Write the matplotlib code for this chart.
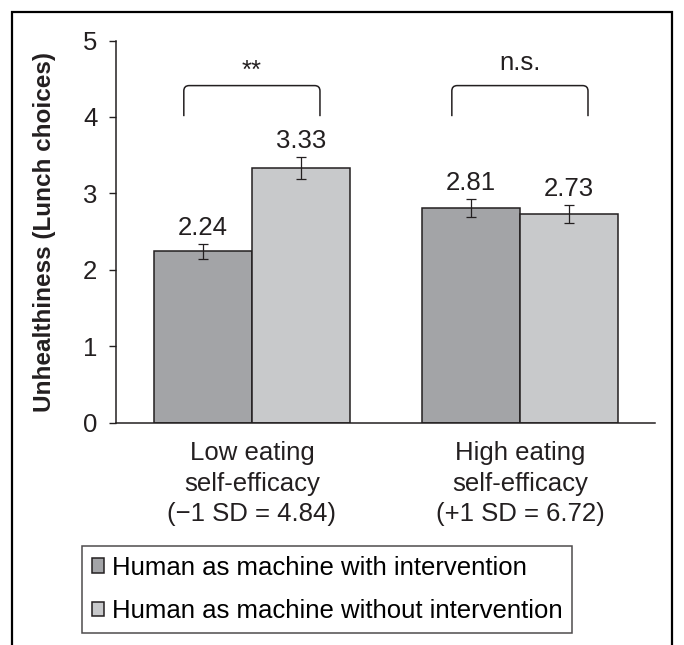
import matplotlib
matplotlib.use("Agg")
import matplotlib.pyplot as plt
import numpy as np
from matplotlib.patches import Rectangle, PathPatch
from matplotlib.path import Path

plt.rcParams['font.family'] = ['Liberation Sans', 'DejaVu Sans']

# data
groups = ["Low eating\nself-efficacy\n(\u22121 SD = 4.84)",
          "High eating\nself-efficacy\n(+1 SD = 6.72)"]
series = ["Human as machine with intervention",
          "Human as machine without intervention"]
with_int = [2.24, 2.81]
without_int = [3.33, 2.73]
err_with = [0.10, 0.12]
err_without = [0.14, 0.12]
sig_labels = ["**", "n.s."]

colors = ["#a3a4a7", "#c8c9cb"]
edge = "#231f20"
fs = 18.5

fig = plt.figure(figsize=(6.84, 6.45), dpi=100)
ax = fig.add_axes([116 / 684, 0.3447, 539 / 684, 0.5925])

x = np.arange(len(groups))
w = 0.366
vals = [with_int, without_int]
errs = [err_with, err_without]
for i, (v, e) in enumerate(zip(vals, errs)):
    pos = x + (i - 0.5) * w
    ax.bar(pos, v, width=w, color=colors[i], edgecolor=edge, linewidth=1.1,
           label=series[i], zorder=2)
    ax.errorbar(pos, v, yerr=e, fmt="none", ecolor=edge, elinewidth=0.9,
                capsize=3.6, capthick=0.9, zorder=3)
    for px, vv, ee in zip(pos, v, e):
        ax.text(px, vv + ee + 0.12, f"{vv:.2f}", ha="center", va="baseline",
                fontsize=fs, color=edge)

# significance brackets with softly rounded corners
rx, ry = 0.02, 0.07
for xc, lab in zip(x, sig_labels):
    x0, x1 = xc - 0.254, xc + 0.254
    y0, y1 = 4.01, 4.41
    verts = [(x0, y0), (x0, y1 - ry), (x0, y1), (x0 + rx, y1),
             (x1 - rx, y1), (x1, y1), (x1, y1 - ry), (x1, y0)]
    codes = [Path.MOVETO, Path.LINETO, Path.CURVE3, Path.CURVE3,
             Path.LINETO, Path.CURVE3, Path.CURVE3, Path.LINETO]
    ax.add_patch(PathPatch(Path(verts, codes), fill=False, edgecolor=edge,
                           linewidth=1.1, clip_on=False))
    ty = 4.51 if lab == "**" else 4.61
    ax.text(xc, ty, lab, ha="center", va="baseline", fontsize=fs, color=edge)

ax.set_xlim(-0.507, 1.504)
ax.set_ylim(0, 5)
ax.set_yticks([0, 1, 2, 3, 4, 5])
ax.set_xticks(x)
ax.set_xticklabels(groups, fontsize=fs, color=edge, linespacing=1.33)
ax.tick_params(axis="x", length=0, pad=13.5)
ax.tick_params(axis="y", length=5.4, width=1, labelsize=fs, colors=edge,
               pad=8)
for s in ["top", "right"]:
    ax.spines[s].set_visible(False)
for s in ["left", "bottom"]:
    ax.spines[s].set_linewidth(1.1)
    ax.spines[s].set_color(edge)
ax.set_ylabel("Unhealthiness (Lunch choices)", fontsize=17.5,
              fontweight="bold", color=edge)
ax.yaxis.set_label_coords(-0.111, 0.5)

leg = fig.legend(loc="upper left", bbox_to_anchor=(82 / 684, 1 - 546 / 645),
                 fontsize=fs, frameon=True, fancybox=False, edgecolor=edge,
                 handlelength=0.5, handleheight=0.5, handletextpad=0.3,
                 labelspacing=0.77, borderpad=0.37, borderaxespad=0)
leg.get_frame().set_linewidth(1.1)

# outer frame, open past the bottom edge
fig.patches.append(Rectangle((12 / 684, -0.05), 660 / 684, 1.05 - 12 / 645,
                             transform=fig.transFigure, fill=False,
                             edgecolor="black", linewidth=1.6))

fig.savefig("out.png", dpi=100)
